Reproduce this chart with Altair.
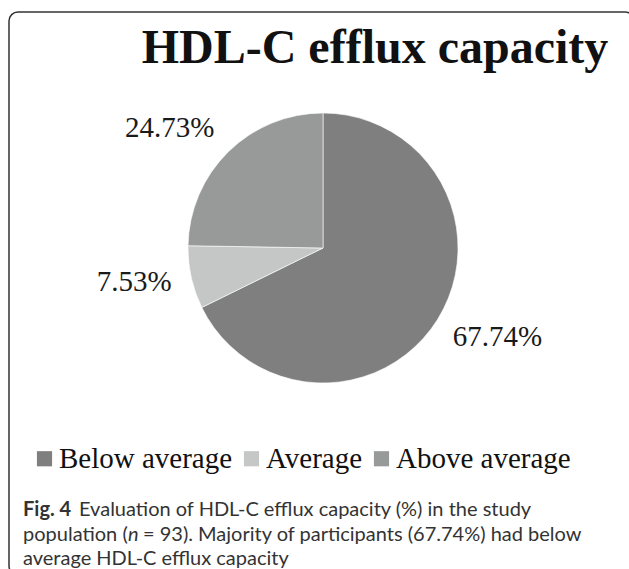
import altair as alt
import pandas as pd

# Share of participants in each HDL-C efflux capacity group (n = 93)
categories = ["Below average", "Average", "Above average"]
shares = [67.74, 7.53, 24.73]
share_labels = ["67.74%", "7.53%", "24.73%"]
slice_colors = ["#7f7f7f", "#c5c7c6", "#989a99"]

title_text = "HDL-C efflux capacity"
caption_bold = "Fig. 4"
caption_line1 = "Evaluation of HDL-C efflux capacity (%) in the study"
caption_line2 = ["population (", "n", "= 93). Majority of participants (67.74%) had below"]
caption_line3 = "average HDL-C efflux capacity"

df = pd.DataFrame({
    "category": categories,
    "share": shares,
    "label": share_labels,
    "rank": list(range(len(categories))),
})

W, H = 629, 569
CX, CY, R = 323, 248, 135
SERIF = "Liberation Serif"
SANS = "Lato"
CAP_SIZE = 20

base = alt.Chart(df).encode(
    theta=alt.Theta("share:Q", stack=True),
    order=alt.Order("rank:Q"),
    x=alt.value(CX),
    y=alt.value(CY),
)

pie = base.mark_arc(outerRadius=R, stroke="#ffffff", strokeWidth=0.6).encode(
    color=alt.Color(
        "category:N",
        scale=alt.Scale(domain=categories, range=slice_colors),
        legend=alt.Legend(
            title=None,
            orient="none",
            legendX=30,
            legendY=444,
            direction="horizontal",
            symbolType="square",
            symbolSize=230,
            symbolStrokeWidth=0,
            labelFont=SERIF,
            labelFontSize=29,
            labelColor="#111111",
            columnPadding=4,
            labelOffset=0,
            labelLimit=400,
        ),
    )
)


def slice_label(cat, align, baseline, radius, dy=0):
    return base.mark_text(
        radius=radius, align=align, baseline=baseline, dy=dy,
        font=SERIF, fontSize=29, color="#1a1a1a",
    ).encode(
        text="label:N",
        opacity=alt.condition(alt.datum.category == cat, alt.value(1), alt.value(0)),
    )


labels = (
    slice_label("Below average", "left", "top", 153, dy=-6)
    + slice_label("Average", "right", "middle", 155)
    + slice_label("Above average", "right", "alphabetic", 155)
)

one = pd.DataFrame({"k": [0]})

frame = alt.Chart(one).mark_rect(
    fill=None, stroke="#333333", strokeWidth=1.5, cornerRadius=9
).encode(x=alt.value(9), x2=alt.value(634), y=alt.value(12), y2=alt.value(575))

title = alt.Chart(one).mark_text(
    text=title_text, font=SERIF, fontWeight="bold", fontSize=48,
    align="center", baseline="alphabetic", color="#111111",
).encode(x=alt.value(375), y=alt.value(63))


def cap_text(text, x0, y0, weight="normal", style="normal"):
    return alt.Chart(one).mark_text(
        text=text, font=SANS, fontSize=CAP_SIZE, fontWeight=weight, fontStyle=style,
        align="left", baseline="alphabetic", color="#333333",
    ).encode(x=alt.value(x0), y=alt.value(y0))


caption = [
    cap_text(caption_bold, 23, 516, weight="bold"),
    cap_text(caption_line1, 79, 516),
    cap_text(caption_line2[0], 23, 541),
    cap_text(caption_line2[1], 128, 541, style="italic"),
    cap_text(caption_line2[2], 143, 541),
    cap_text(caption_line3, 23, 565),
]

chart = alt.layer(frame, pie, labels, title, *caption).properties(
    width=W, height=H, autosize=alt.AutoSizeParams(type="none"), padding=0,
    background="#ffffff",
).configure_view(strokeWidth=0)

chart.save("out.html", embed_options={"renderer": "svg", "actions": False})
